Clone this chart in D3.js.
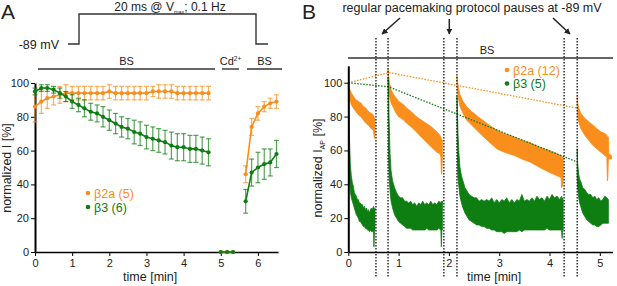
<!DOCTYPE html>
<html>
<head>
<meta charset="utf-8">
<script src="https://cdn.jsdelivr.net/npm/d3@7"></script>
<style>
  body { margin: 0; background: #fff; }
  svg { font-family: "Liberation Sans", Arial, sans-serif; }
  .axis path, .axis line { stroke: #000; }
  .axis text { font-size: 11px; fill: #222; }
</style>
</head>
<body>
<svg id="chart" width="617" height="286"></svg>
<script>
// ---- panel A: normalized current, one point every 10 s
const timeA = [0, 0.17, 0.33, 0.5, 0.67, 0.83, 1, 1.17, 1.33, 1.5, 1.67, 1.83, 2, 2.17, 2.33, 2.5,
  2.67, 2.83, 3, 3.17, 3.33, 3.5, 3.67, 3.83, 4, 4.17, 4.33, 4.5, 4.67];
const orangeA = [86, 89, 91, 92, 93, 94, 94, 94, 94, 94, 94, 94, 95, 94, 94, 94, 94, 94, 94, 95,
  95, 95, 95, 94, 94, 94, 94, 94, 94];
const orangeErrA = [9, 7, 6, 5, 5, 5, 4, 4, 4, 4, 4, 4, 4, 4, 4, 4, 4, 4, 4, 3, 4, 4, 4, 4, 4, 4, 4, 4, 4];
const greenA = [95, 97, 97, 96, 94, 92, 89, 87, 85, 83, 82, 80, 78, 76, 74, 73, 71, 70, 68, 67,
  66, 65, 63, 62, 62, 61, 61, 60, 59];
const greenErrA = [2, 2, 2, 2, 3, 3, 4, 4, 5, 5, 5, 6, 6, 6, 6, 6, 7, 7, 7, 7, 7, 7, 8, 8, 8, 8, 8, 8, 8];

const timeCd = [5, 5.17, 5.33];
const orangeCd = [0, 0, 0];
const greenCd = [0, 0, 0];

const timeR = [5.67, 5.83, 6, 6.17, 6.33, 6.5];
const orangeR = [46, 74, 82, 86, 88, 89];
const orangeErrR = [5, 5, 4, 3, 3, 4];
const greenR = [30, 47, 50, 52, 53, 58];
const greenErrR = [7, 8, 9, 9, 8, 8];

const ticksA = [0, 1, 2, 3, 4, 5, 6];
const ticksY = [0, 20, 40, 60, 80, 100];

// ---- panel B: traces as [time, upper edge, lower edge] per recording segment
const orangeB1 = [[0,100,100],[0.01,98,94],[0.03,96,90],[0.06,94,87],[0.1,92,85],[0.15,90,83],[0.2,89,81],
  [0.25,88,80],[0.3,86,78],[0.35,85,76],[0.4,83,75],[0.45,82,73],[0.5,81,72],[0.51,80,69],[0.52,79,67],[0.53,79,70]];
const orangeB2 = [[0.79,108,100],[0.8,104,96],[0.82,100,92],[0.85,96,88],[0.9,93,85],[0.95,91,82],[1.0,89,80],
  [1.1,87,78],[1.16,85,76],[1.25,83,74],[1.35,80,71],[1.45,78,68],[1.55,76,65],[1.65,74,62],[1.76,71,59],
  [1.82,69,58],[1.84,68,56],[1.85,67,46],[1.86,66,47],[1.87,66,56]];
const orangeB3 = [[2.16,104,100],[2.17,101,95],[2.19,97,91],[2.22,93,86],[2.28,89,82],[2.35,86,78],[2.45,83,75],
  [2.62,79,70],[2.8,75,65],[2.95,72,61],[3.1,70,59],[3.3,68,57],[3.45,66,55],[3.62,64.5,53],[3.8,62,50],
  [4.0,60,47],[4.15,58,45],[4.23,57,44],[4.24,56,38],[4.26,56,39],[4.27,55,43]];
const orangeB4 = [[4.55,92,86],[4.56,88,80],[4.58,85,77],[4.62,82,73],[4.7,79,69],[4.78,77,66],[4.86,75,63],
  [4.94,73,61],[5.02,71,59],[5.1,70,57],[5.14,69,56],[5.15,68,42],[5.16,68,44],[5.17,68,55],[5.18,58,55],[5.23,57,55]];

const greenB1 = [[0,100,100],[0.01,99,60],[0.02,70,45],[0.04,52,36],[0.06,45,32],[0.08,41,30],[0.1,39,28],
  [0.12,35,26],[0.14,34,24],[0.16,33,22],[0.18,31,21],[0.2,31,20],[0.22,29,18],[0.24,29,18],[0.26,28,17],
  [0.28,28,16],[0.3,26,15],[0.32,27,15],[0.34,25,14],[0.36,26,14],[0.38,24,13],[0.4,25,13],[0.42,23,12],
  [0.44,25,13],[0.46,26,12],[0.48,25,12],[0.5,27,13],[0.51,26,3],[0.52,25,12],[0.53,26,13]];
const greenB2 = [[0.79,103,100],[0.8,101,60],[0.81,80,45],[0.83,58,36],[0.85,48,30],[0.88,42,26],[0.92,38,22],
  [0.96,35,20],[1.0,33,18],[1.04,32,17],[1.08,32,16],[1.12,30,15],[1.16,30,14],[1.2,29,14],[1.24,30,14],
  [1.28,28,13],[1.32,29,13],[1.36,27,13],[1.4,29,13],[1.44,28,13],[1.48,30,13],[1.52,28,13],[1.56,29,14],
  [1.6,28,13],[1.64,30,13],[1.68,28,13],[1.72,29,13],[1.76,28,13],[1.8,30,14],[1.84,29,13],[1.85,30,3],
  [1.86,28,13],[1.87,30,13]];
const greenB3 = [[2.16,92,80],[2.17,85,55],[2.18,70,44],[2.2,58,38],[2.22,50,33],[2.25,45,29],[2.28,42,26],
  [2.32,38,23],[2.36,36,21],[2.4,34,19],[2.45,33,18],[2.5,32,17],[2.55,32,16],[2.6,30,16],[2.65,31,15],
  [2.7,30,15],[2.75,31,14],[2.8,30,14],[2.85,32,13],[2.9,29,13],[2.95,31,12],[3.0,29,12],[3.05,31,12],
  [3.1,30,11],[3.15,32,12],[3.2,29,12],[3.25,31,12],[3.3,29,12],[3.35,31,12],[3.4,30,13],[3.45,34,12],
  [3.5,30,13],[3.55,31,13],[3.6,30,13],[3.65,32,13],[3.7,30,13],[3.75,33,13],[3.8,31,13],[3.85,32,13],
  [3.9,30,13],[3.95,33,14],[4.0,31,13],[4.05,34,13],[4.1,32,13],[4.15,33,13],[4.2,31,13],[4.24,33,13],
  [4.25,30,8],[4.26,32,13],[4.27,31,13]];
const greenB4 = [[4.55,61,45],[4.56,52,38],[4.58,46,32],[4.6,43,29],[4.63,41,26],[4.66,38,23],[4.7,37,21],
  [4.74,35,19],[4.78,34,18],[4.82,34,17],[4.86,32,16],[4.9,33,16],[4.94,31,15],[4.98,32,15],[5.02,30,16],
  [5.06,31,17],[5.1,33,17],[5.14,32,17],[5.17,31,17]];

// run-down lines through the first point of each segment
const orangeTrend = [[0, 100], [0.81, 106], [4.55, 85]];
const greenTrend = [[0, 100], [0.8, 97.6], [4.54, 53.3]];
const pauses = [[0.55, 0.79], [1.9, 2.16], [4.29, 4.55]];
const ticksB = [0, 1, 2, 3, 4, 5];

const ORANGE = '#f98e1c', GREEN = '#0e7e12';

const svg = d3.select('#chart');
const fmt = d3.format('d');

// ================= panel A =================
const xA = d3.scaleLinear().domain([0, 6.54]).range([35, 278]);
const yA = d3.scaleLinear().domain([0, 100]).range([252, 83]);

svg.append('g').attr('class', 'axis').attr('transform', 'translate(0,252)')
  .call(d3.axisBottom(xA).tickValues(ticksA).tickFormat(fmt).tickSize(4).tickSizeOuter(0).tickPadding(3))
  .call(g => g.select('.domain').attr('stroke-width', 1.5));
svg.append('g').attr('class', 'axis').attr('transform', 'translate(35,0)')
  .call(d3.axisLeft(yA).tickValues(ticksY).tickFormat(fmt).tickSize(4).tickSizeOuter(0).tickPadding(2))
  .call(g => g.select('.domain').attr('stroke-width', 2));

const drawSeries = (t, v, err, color) => {
  const pts = t.map((d, i) => ({t: d, v: v[i], e: err ? err[i] : 0}));
  const g = svg.append('g');
  if (err) {
    const eb = g.selectAll('g.eb').data(pts).enter().append('g')
      .attr('stroke', color).attr('stroke-opacity', 0.7).attr('stroke-width', 1.2);
    eb.append('line').attr('x1', d => xA(d.t)).attr('x2', d => xA(d.t))
      .attr('y1', d => yA(d.v - d.e)).attr('y2', d => yA(d.v + d.e));
    eb.append('line').attr('x1', d => xA(d.t) - 2.5).attr('x2', d => xA(d.t) + 2.5)
      .attr('y1', d => yA(d.v - d.e)).attr('y2', d => yA(d.v - d.e));
    eb.append('line').attr('x1', d => xA(d.t) - 2.5).attr('x2', d => xA(d.t) + 2.5)
      .attr('y1', d => yA(d.v + d.e)).attr('y2', d => yA(d.v + d.e));
  }
  g.append('path').datum(pts)
    .attr('d', d3.line().x(d => xA(d.t)).y(d => yA(d.v)))
    .attr('fill', 'none').attr('stroke', color).attr('stroke-width', 1.6);
  g.selectAll('circle').data(pts).enter().append('circle')
    .attr('cx', d => xA(d.t)).attr('cy', d => yA(d.v)).attr('r', 2.1).attr('fill', color);
};

drawSeries(timeA, orangeA, orangeErrA, ORANGE);
drawSeries(timeA, greenA, greenErrA, GREEN);
drawSeries(timeCd, orangeCd, null, ORANGE);
drawSeries(timeCd, greenCd, null, GREEN);
drawSeries(timeR, orangeR, orangeErrR, ORANGE);
drawSeries(timeR, greenR, greenErrR, GREEN);

svg.append('text').attr('x', xA(3.1)).attr('y', 281).attr('text-anchor', 'middle')
  .attr('font-size', 12.5).attr('fill', '#222').text('time [min]');
svg.append('text').attr('transform', 'translate(11,168) rotate(-90)').attr('text-anchor', 'middle')
  .attr('font-size', 12.5).attr('fill', '#222').text('normalized I [%]');

// legend A
[[ORANGE, 'β2a (5)', 193], [GREEN, 'β3 (6)', 207]].forEach(([c, txt, y]) => {
  svg.append('circle').attr('cx', 88).attr('cy', y).attr('r', 2.3).attr('fill', c);
  svg.append('text').attr('x', 94).attr('y', y + 4.5).attr('font-size', 12.5).attr('fill', c).text(txt);
});

// solution bars
const bars = [[38, 215, 'BS'], [222, 239, 'Cd'], [247, 282, 'BS']];
bars.forEach(([a, b, lab]) => {
  svg.append('line').attr('x1', a).attr('x2', b).attr('y1', 69).attr('y2', 69)
    .attr('stroke', '#333').attr('stroke-width', 1.4);
  const t = svg.append('text').attr('x', (a + b) / 2).attr('y', 65).attr('text-anchor', 'middle')
    .attr('font-size', 11).attr('fill', '#222').text(lab);
  if (lab === 'Cd') t.append('tspan').attr('font-size', 6.5).attr('dy', -4).text('2+');
});

// voltage protocol
svg.append('path').attr('d', 'M68,44 H79 V14 H256 V44 H268')
  .attr('fill', 'none').attr('stroke', '#333').attr('stroke-width', 1.4);
svg.append('text').attr('x', 59).attr('y', 49).attr('text-anchor', 'end')
  .attr('font-size', 12.5).attr('fill', '#222').text('-89 mV');
const prot = svg.append('text').attr('x', 170).attr('y', 10.5).attr('text-anchor', 'middle')
  .attr('font-size', 12).attr('fill', '#222');
prot.append('tspan').text('20 ms @ V');
prot.append('tspan').attr('font-size', 5.5).attr('dy', 3).text('max');
prot.append('tspan').attr('dy', -3).text('; 0.1 Hz');

svg.append('text').attr('x', 1).attr('y', 19).attr('font-size', 21).attr('fill', '#222').text('A');

// ================= panel B =================
const xB = d3.scaleLinear().domain([0, 5.25]).range([348.3, 612.4]);
const yB = d3.scaleLinear().domain([0, 110]).range([252, 65.8]);

const area = d3.area().x(d => xB(d[0])).y0(d => yB(d[2])).y1(d => yB(d[1]));
[orangeB1, orangeB2, orangeB3, orangeB4].forEach(seg => {
  svg.append('path').datum(seg).attr('d', area).attr('fill', ORANGE)
    .attr('stroke', ORANGE).attr('stroke-width', 0.8);
});
[greenB1, greenB2, greenB3, greenB4].forEach(seg => {
  svg.append('path').datum(seg).attr('d', area).attr('fill', GREEN)
    .attr('stroke', GREEN).attr('stroke-width', 0.8);
});

const trend = d3.line().x(d => xB(d[0])).y(d => yB(d[1]));
svg.append('path').datum(orangeTrend).attr('d', trend).attr('fill', 'none')
  .attr('stroke', ORANGE).attr('stroke-width', 1.3).attr('stroke-dasharray', '1.5,1.5');
svg.append('path').datum(greenTrend).attr('d', trend).attr('fill', 'none')
  .attr('stroke', GREEN).attr('stroke-width', 1.3).attr('stroke-dasharray', '1.5,1.5');

svg.append('g').attr('class', 'axis').attr('transform', 'translate(0,252)')
  .call(d3.axisBottom(xB).tickValues(ticksB).tickFormat(fmt).tickSize(4).tickSizeOuter(0).tickPadding(3))
  .call(g => g.select('.domain').attr('stroke-width', 1.5));
svg.append('g').attr('class', 'axis').attr('transform', 'translate(348.3,0)')
  .call(d3.axisLeft(yB).tickValues(ticksY).tickFormat(fmt).tickSize(4).tickSizeOuter(0).tickPadding(2))
  .call(g => g.select('.domain').attr('stroke-width', 2));

// pauses
pauses.forEach(p => p.forEach(t => {
  svg.append('line').attr('x1', xB(t)).attr('x2', xB(t)).attr('y1', 38).attr('y2', 277)
    .attr('stroke', '#111').attr('stroke-width', 1.3).attr('stroke-dasharray', '1.5,1.5');
}));

svg.append('line').attr('x1', 348).attr('x2', 613).attr('y1', 58).attr('y2', 58)
  .attr('stroke', '#333').attr('stroke-width', 1.4);
svg.append('text').attr('x', 487).attr('y', 54).attr('text-anchor', 'middle')
  .attr('font-size', 11).attr('fill', '#222').text('BS');

svg.append('text').attr('x', 472).attr('y', 12).attr('text-anchor', 'middle')
  .attr('font-size', 12.5).attr('fill', '#222').text('regular pacemaking protocol pauses at -89 mV');

svg.append('defs').append('marker').attr('id', 'head').attr('viewBox', '0 0 10 10')
  .attr('refX', 9).attr('refY', 5).attr('markerWidth', 4).attr('markerHeight', 4)
  .attr('orient', 'auto').append('path').attr('d', 'M0,0 L10,5 L0,10 Z').attr('fill', '#222');
[[400, 18, 382, 34], [449.3, 19, 449.3, 34], [553, 18, 570, 34]].forEach(([a, b, c, d]) => {
  svg.append('line').attr('x1', a).attr('y1', b).attr('x2', c).attr('y2', d)
    .attr('stroke', '#222').attr('stroke-width', 1.5).attr('marker-end', 'url(#head)');
});

svg.append('text').attr('x', xB(2.9)).attr('y', 281).attr('text-anchor', 'middle')
  .attr('font-size', 12.5).attr('fill', '#222').text('time [min]');
const yt = svg.append('text').attr('transform', 'translate(322,168) rotate(-90)').attr('text-anchor', 'middle')
  .attr('font-size', 12.5).attr('fill', '#222');
yt.append('tspan').text('normalized I');
yt.append('tspan').attr('font-size', 7).attr('dy', 3).text('AP');
yt.append('tspan').attr('dy', -3).text(' [%]');

[[ORANGE, 'β2a (12)', 70], [GREEN, 'β3 (5)', 83.5]].forEach(([c, txt, y]) => {
  svg.append('circle').attr('cx', 507).attr('cy', y).attr('r', 2.3).attr('fill', c);
  svg.append('text').attr('x', 513).attr('y', y + 4.5).attr('font-size', 12.5).attr('fill', c).text(txt);
});

svg.append('text').attr('x', 302).attr('y', 19).attr('font-size', 21).attr('fill', '#222').text('B');
</script>
</body>
</html>
